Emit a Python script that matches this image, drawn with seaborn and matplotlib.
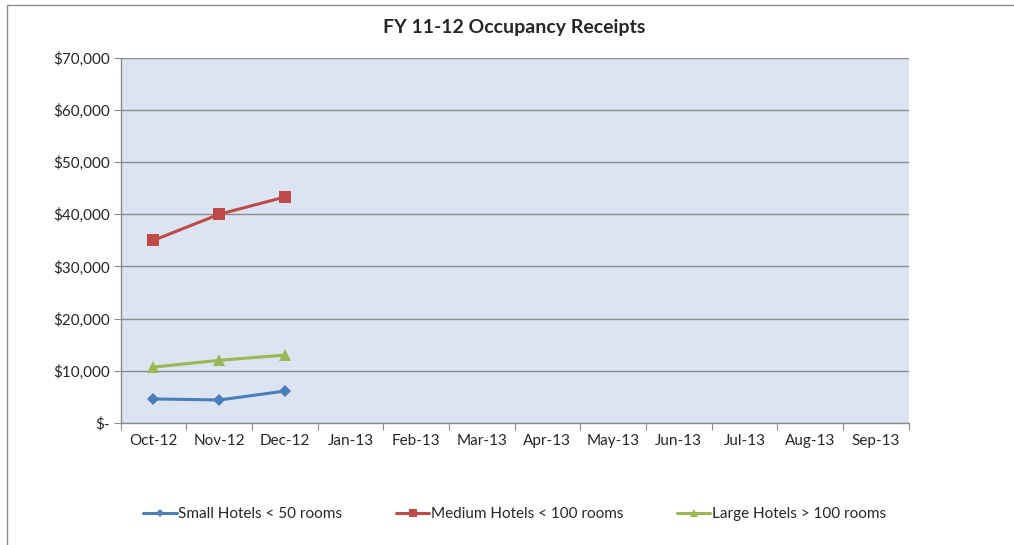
import matplotlib
matplotlib.use('Agg')
import matplotlib.pyplot as plt
import seaborn as sns
import pandas as pd
import numpy as np
from matplotlib.patches import Rectangle

months = ['Oct-12', 'Nov-12', 'Dec-12', 'Jan-13', 'Feb-13', 'Mar-13',
          'Apr-13', 'May-13', 'Jun-13', 'Jul-13', 'Aug-13', 'Sep-13']
small = [4600, 4400, 6100]
medium = [35000, 40000, 43300]
large = [10700, 12000, 13000]
series_names = ['Small Hotels < 50 rooms', 'Medium Hotels < 100 rooms', 'Large Hotels > 100 rooms']
y_ticks = [0, 10000, 20000, 30000, 40000, 50000, 60000, 70000]

sns.set_style('white')
plt.rcParams['font.family'] = ['Lato', 'DejaVu Sans']

rows = []
for name, vals in zip(series_names, [small, medium, large]):
    for i, v in enumerate(vals):
        rows.append({'pos': i, 'value': v, 'series': name})
df = pd.DataFrame(rows)

fig = plt.figure(figsize=(10.14, 5.45), dpi=100)
ax = fig.add_axes([0.119, 0.224, 0.777, 0.67])
ax.set_facecolor('#dbe4f0')

colors = ['#4a7ebb', '#be4b48', '#98b954']
sns.lineplot(data=df, x='pos', y='value', hue='series', style='series',
             palette=colors, markers=['D', 's', '^'], dashes=False, markersize=8,
             markeredgewidth=0, linewidth=2.2, ax=ax)
# diamonds look larger than squares at same size
for line in ax.lines:
    if line.get_marker() == 'D':
        line.set_markersize(6.5)

ax.set_xlim(-0.5, len(months) - 0.5)
ax.set_ylim(0, 70000)
ax.set_yticks(y_ticks)
ax.set_yticklabels(['$-' if t == 0 else '${:,}'.format(t) for t in y_ticks], fontsize=11)
ax.yaxis.grid(True, color='#8c8c8c', linewidth=1)
ax.set_axisbelow(True)

ax.set_xticks(np.arange(len(months) + 1) - 0.5)
ax.set_xticklabels([])
ax.set_xticks(np.arange(len(months)), minor=True)
ax.set_xticklabels(months, minor=True, fontsize=11)
ax.tick_params(axis='x', which='major', length=5, color='#8c8c8c', direction='out', bottom=True)
ax.tick_params(axis='x', which='minor', length=0, pad=8)
ax.tick_params(axis='y', length=5, color='#8c8c8c', direction='out', left=True, pad=3)

for side in ['top', 'right']:
    ax.spines[side].set_visible(False)
for side in ['left', 'bottom']:
    ax.spines[side].set_color('#8c8c8c')
    ax.spines[side].set_linewidth(1)

ax.set_xlabel('')
ax.set_ylabel('')
ax.set_title('FY 11-12 Occupancy Receipts', fontsize=14, fontweight='bold', pad=18)

handles, labels = ax.get_legend_handles_labels()
for h in handles:
    if h.get_marker() == 'D':
        h.set_markersize(5.5)
ax.legend(handles, labels, loc='center', bbox_to_anchor=(0.5, -0.25), ncol=3,
          frameon=False, fontsize=11, handlelength=2.2, handletextpad=0.1,
          columnspacing=3.5, markerscale=0.8)

fig.patches.append(Rectangle((0.007, -0.01), 1.2, 1.0, transform=fig.transFigure,
                             fill=False, edgecolor='#8c8c8c', linewidth=1))

plt.savefig('out.png', dpi=100)
